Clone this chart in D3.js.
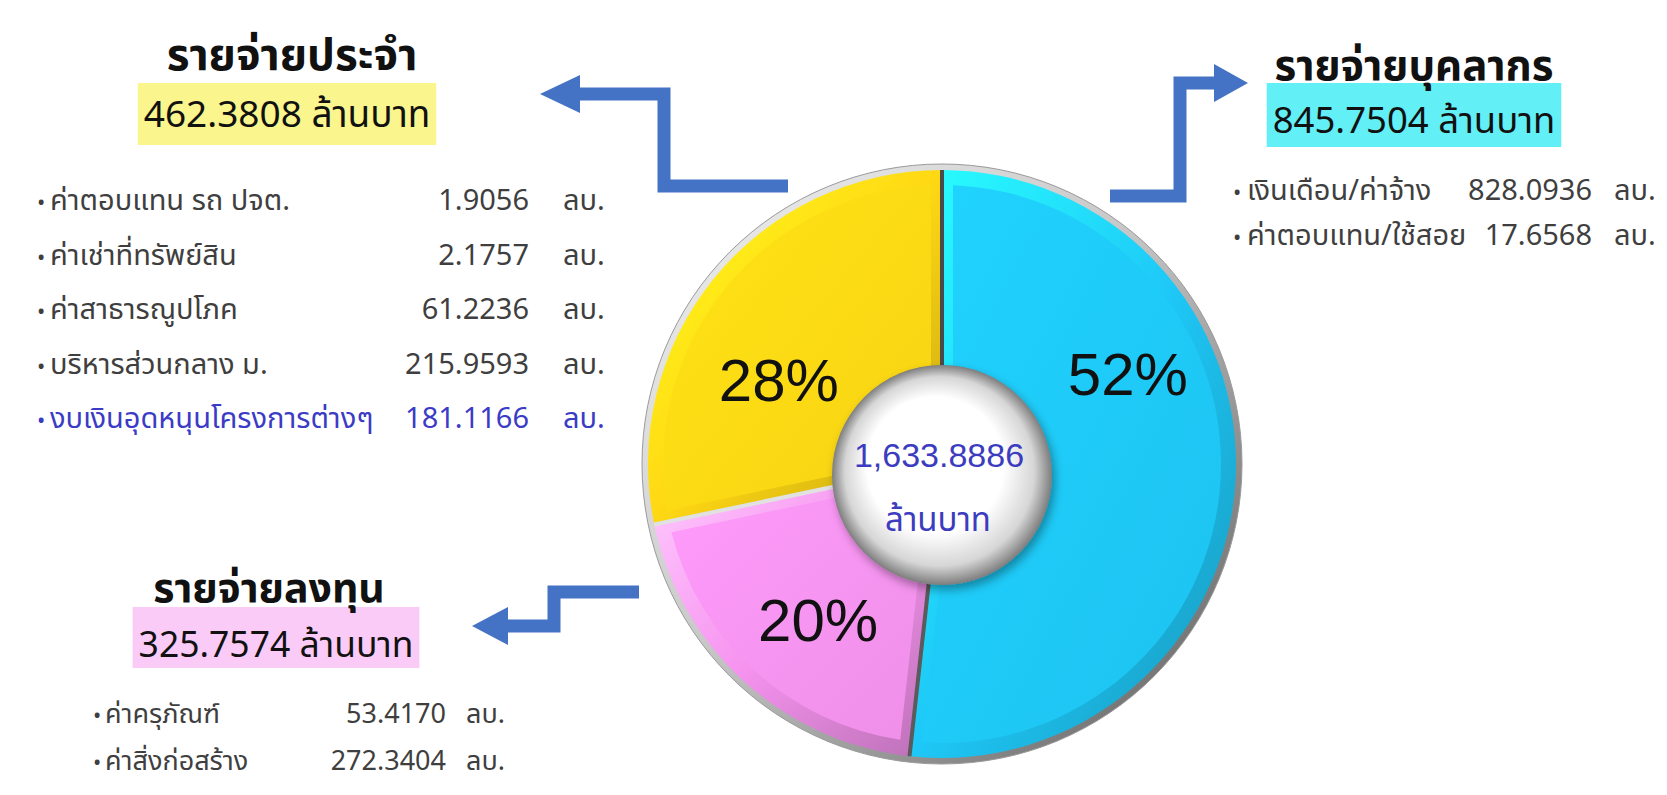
<!DOCTYPE html>
<html>
<head>
<meta charset="utf-8">
<script src="https://cdn.jsdelivr.net/npm/d3@7"></script>
<style>
  html, body { margin: 0; padding: 0; background: #fff; }
  svg { display: block; }
</style>
</head>
<body>
<div id="chart"></div>
<script>
// Budget split in three expense groups: bevelled pie in the middle,
// with a titled list of sub items for each group around it.

// ---- data ----
var groupNames = ["รายจ่ายบุคลากร", "รายจ่ายลงทุน", "รายจ่ายประจำ"];
var groupTotals = [845.7504, 325.7574, 462.3808];

var personnelItems = ["เงินเดือน/ค่าจ้าง", "ค่าตอบแทน/ใช้สอย"];
var personnelValues = [828.0936, 17.6568];

var capitalItems = ["ค่าครุภัณฑ์", "ค่าสิ่งก่อสร้าง"];
var capitalValues = [53.4170, 272.3404];

var recurringItems = ["ค่าตอบแทน รถ ปจต.", "ค่าเช่าที่ทรัพย์สิน", "ค่าสาธารณูปโภค", "บริหารส่วนกลาง ม.", "งบเงินอุดหนุนโครงการต่างๆ"];
var recurringValues = [1.9056, 2.1757, 61.2236, 215.9593, 181.1166];

var unitShort = "ลบ.";
var unitLong = "ล้านบาท";

// ---- look ----
var sliceColors = ["#1ec8f7", "#f693ef", "#ffd814"];
var boxColors = ["#62eff6", "#fbcbf8", "#faf58c"];
var arrowColor = "#4472c4";
var thaiFont = "'Noto Sans Thai', 'Noto Sans Thai UI', 'Leelawadee UI', Tahoma, 'Noto Sans', sans-serif";
var latinFont = "'Liberation Sans', Arial, sans-serif";

var svgWidth = 1667;
var svgHeight = 795;

var pieCx = 942, pieCy = 464, rimR = 300, faceR = 294;
var holeDy = 11, holeR = 110;

// where each percentage sits inside its slice (fraction of the sweep, radius)
var labelT = [0.343, 0.448, 0.387];
var labelR = [207, 199, 184];

var svg = d3.select("#chart")
    .append("svg")
    .attr("width", svgWidth)
    .attr("height", svgHeight);

var defs = svg.append("defs");

// ---- pie ----
var pie = d3.pie().sort(null).value(d => d);
var slices = pie(groupTotals);
var grandTotal = d3.sum(groupTotals);

var rimGrad = defs.append("linearGradient").attr("id", "rim")
    .attr("x1", 0).attr("y1", 0).attr("x2", 1).attr("y2", 1);
rimGrad.append("stop").attr("offset", "0%").attr("stop-color", "#f4f4f4");
rimGrad.append("stop").attr("offset", "45%").attr("stop-color", "#c8c8c8");
rimGrad.append("stop").attr("offset", "100%").attr("stop-color", "#5a5a5a");

sliceColors.forEach(function (c, i) {
    var g = defs.append("linearGradient").attr("id", "bevel" + i)
        .attr("x1", 0).attr("y1", 0).attr("x2", 1).attr("y2", 1);
    g.append("stop").attr("offset", "0%").attr("stop-color", d3.color(c).brighter(0.9));
    g.append("stop").attr("offset", "50%").attr("stop-color", c);
    g.append("stop").attr("offset", "100%").attr("stop-color", d3.color(c).darker(0.8));

    var f = defs.append("linearGradient").attr("id", "face" + i)
        .attr("x1", 0).attr("y1", 0).attr("x2", 1).attr("y2", 1);
    f.append("stop").attr("offset", "0%").attr("stop-color", d3.color(c).brighter(0.15));
    f.append("stop").attr("offset", "100%").attr("stop-color", d3.color(c).darker(0.08));
});

var holeGrad = defs.append("radialGradient").attr("id", "hole")
    .attr("cx", "50%").attr("cy", "50%").attr("r", "50%")
    .attr("fx", "42%").attr("fy", "38%");
holeGrad.append("stop").attr("offset", "0%").attr("stop-color", "#ffffff");
holeGrad.append("stop").attr("offset", "62%").attr("stop-color", "#ffffff");
holeGrad.append("stop").attr("offset", "86%").attr("stop-color", "#d6d6d6");
holeGrad.append("stop").attr("offset", "100%").attr("stop-color", "#7d7d7d");

var shadow = defs.append("filter").attr("id", "shadow")
    .attr("x", "-30%").attr("y", "-30%").attr("width", "160%").attr("height", "160%");
shadow.append("feDropShadow").attr("dx", 3).attr("dy", 5).attr("stdDeviation", 5)
    .attr("flood-color", "#000").attr("flood-opacity", 0.35);

var pieGroup = svg.append("g")
    .attr("transform", `translate(${pieCx}, ${pieCy})`);

pieGroup.append("circle")
    .attr("r", rimR)
    .attr("fill", "url(#rim)")
    .attr("stroke", "#9a9a9a")
    .attr("stroke-width", 1);

var outerArc = d3.arc().innerRadius(0).outerRadius(faceR);
var faceArc = d3.arc().innerRadius(60).outerRadius(faceR - 15)
    .padAngle(22 / faceR).padRadius(faceR);

pieGroup.selectAll("path.bevel")
    .data(slices)
    .enter()
    .append("path")
    .attr("class", "bevel")
    .attr("d", outerArc)
    .attr("fill", (d, i) => `url(#bevel${i})`);

pieGroup.selectAll("path.face")
    .data(slices)
    .enter()
    .append("path")
    .attr("class", "face")
    .attr("d", faceArc)
    .attr("fill", (d, i) => `url(#face${i})`);

// seams between slices: dark where they run up and down, light where flat
pieGroup.selectAll("line.seam")
    .data(slices)
    .enter()
    .append("line")
    .attr("class", "seam")
    .attr("x1", 0).attr("y1", 0)
    .attr("x2", d => faceR * Math.sin(d.startAngle))
    .attr("y2", d => -faceR * Math.cos(d.startAngle))
    .attr("stroke", d => d3.interpolateRgb("#4a4a4a", "#e4e4e4")(Math.abs(Math.sin(d.startAngle))))
    .attr("stroke-width", 4);

var pctFormat = d3.format(".0%");
pieGroup.selectAll("text.pct")
    .data(slices)
    .enter()
    .append("text")
    .attr("class", "pct")
    .attr("x", (d, i) => labelR[i] * Math.sin(d.startAngle + labelT[i] * (d.endAngle - d.startAngle)))
    .attr("y", (d, i) => -labelR[i] * Math.cos(d.startAngle + labelT[i] * (d.endAngle - d.startAngle)))
    .attr("dy", "0.36em")
    .attr("text-anchor", "middle")
    .attr("font-family", latinFont)
    .attr("font-size", "60px")
    .attr("fill", "#111")
    .text(d => pctFormat(d.value / grandTotal));

// centre disc with the grand total
var hole = pieGroup.append("g").attr("transform", `translate(0, ${holeDy})`);
hole.append("circle")
    .attr("r", holeR)
    .attr("fill", "url(#hole)")
    .attr("filter", "url(#shadow)");
hole.append("text")
    .attr("x", -3).attr("y", -8)
    .attr("text-anchor", "middle")
    .attr("font-family", latinFont)
    .attr("font-size", "34px")
    .attr("fill", "#3c3cc0")
    .text(d3.format(",.4f")(grandTotal));
hole.append("text")
    .attr("x", -4).attr("y", 56)
    .attr("text-anchor", "middle")
    .attr("font-family", thaiFont)
    .attr("font-size", "33px")
    .attr("fill", "#3c3cc0")
    .text(unitLong);

// ---- connector arrows ----
var arrows = [
    { pts: [[1110, 196], [1180, 196], [1180, 83], [1214, 83]], tip: [1248, 83] },
    { pts: [[639, 592], [554, 592], [554, 626], [508, 626]], tip: [472, 626] },
    { pts: [[788, 186], [664, 186], [664, 94], [580, 94]], tip: [540, 94] }
];
var headHalf = 19;
arrows.forEach(function (a) {
    svg.append("path")
        .attr("d", d3.line()(a.pts))
        .attr("fill", "none")
        .attr("stroke", arrowColor)
        .attr("stroke-width", 13)
        .attr("stroke-linejoin", "miter");
    var base = a.pts[a.pts.length - 1];
    svg.append("path")
        .attr("d", `M${a.tip[0]},${a.tip[1]} L${base[0]},${base[1] - headHalf} L${base[0]},${base[1] + headHalf} Z`)
        .attr("fill", arrowColor);
});

// ---- side panels ----
var panels = [
    { items: personnelItems, values: personnelValues, titleX: 1414, titleY: 80, subX: 1414,
      subY: 133, boxTop: 83, boxBottom: 147, titleSize: 42, subSize: 36.5, rowSize: 29,
      bulletX: 1233, labelX: 1247, valueX: 1592, unitX: 1614, rowY: 200, rowStep: 45, blueRow: -1 },
    { items: capitalItems, values: capitalValues, titleX: 269, titleY: 602, subX: 276,
      subY: 657, boxTop: 607, boxBottom: 668, titleSize: 41, subSize: 35.5, rowSize: 27,
      bulletX: 93, labelX: 105, valueX: 446, unitX: 466, rowY: 723, rowStep: 47, blueRow: -1 },
    { items: recurringItems, values: recurringValues, titleX: 292, titleY: 70, subX: 287,
      subY: 127, boxTop: 83, boxBottom: 145, titleSize: 44, subSize: 37, rowSize: 29,
      bulletX: 37, labelX: 50, valueX: 529, unitX: 563, rowY: 210, rowStep: 54.5, blueRow: 4 }
];

var valFormat = d3.format(".4f");

panels.forEach(function (p, gi) {
    var g = svg.append("g");

    var box = g.append("rect")
        .attr("fill", boxColors[gi]);

    g.append("text")
        .attr("x", p.titleX).attr("y", p.titleY)
        .attr("text-anchor", "middle")
        .attr("font-family", thaiFont)
        .attr("font-weight", "bold")
        .attr("font-size", p.titleSize + "px")
        .attr("fill", "#111")
        .text(groupNames[gi]);

    var sub = g.append("text")
        .attr("x", p.subX).attr("y", p.subY)
        .attr("text-anchor", "middle")
        .attr("font-family", thaiFont)
        .attr("font-size", p.subSize + "px")
        .attr("fill", "#111")
        .text(valFormat(groupTotals[gi]) + " " + unitLong);

    // highlight box hugs the subtitle
    var bb = sub.node().getBBox();
    box.attr("x", bb.x - 6).attr("width", bb.width + 12)
        .attr("y", p.boxTop).attr("height", p.boxBottom - p.boxTop);

    var rows = g.selectAll("g.row")
        .data(p.items)
        .enter()
        .append("g")
        .attr("class", "row")
        .attr("fill", (d, i) => i === p.blueRow ? "#3b3bc6" : "#3f3f3f")
        .attr("font-family", thaiFont)
        .attr("font-size", p.rowSize + "px");

    rows.append("text")
        .attr("x", p.bulletX).attr("y", (d, i) => p.rowY + i * p.rowStep)
        .attr("font-size", "22px")
        .text("•");
    rows.append("text")
        .attr("x", p.labelX).attr("y", (d, i) => p.rowY + i * p.rowStep)
        .text(d => d);
    rows.append("text")
        .attr("x", p.valueX).attr("y", (d, i) => p.rowY + i * p.rowStep)
        .attr("text-anchor", "end")
        .text((d, i) => valFormat(p.values[i]));
    rows.append("text")
        .attr("x", p.unitX).attr("y", (d, i) => p.rowY + i * p.rowStep)
        .text(unitShort);
});
</script>
</body>
</html>
